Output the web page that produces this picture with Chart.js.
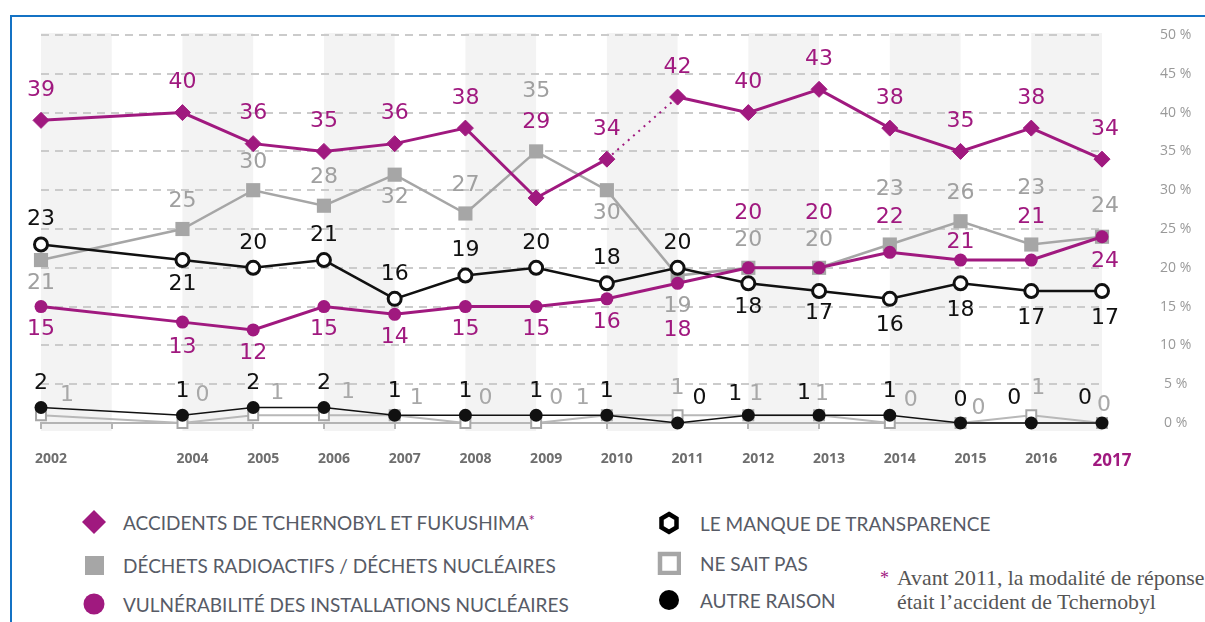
<!DOCTYPE html>
<html lang="fr">
<head>
<meta charset="utf-8">
<title>Raisons d'inquiétude</title>
<script src="https://cdn.jsdelivr.net/npm/chart.js@4.4.0/dist/chart.umd.min.js"></script>
<style>
html,body{margin:0;padding:0;background:#fff;width:1205px;height:622px;overflow:hidden;position:relative;}
#frame{position:absolute;left:10px;top:15px;width:1300px;height:700px;border-left:2px solid #1472c4;border-top:2px solid #1472c4;}
#chart{position:absolute;left:0;top:0;}
.leg{position:absolute;height:24px;display:flex;align-items:center;white-space:nowrap;font:19px Lato,sans-serif;color:#575b66;}
.leg svg{flex:none;}
.leg .star{color:#a0197f;font-size:15px;vertical-align:top;}
#note{position:absolute;left:897px;top:566px;font:21.8px "Liberation Serif",serif;line-height:24px;color:#555;white-space:nowrap;}
#note .star{position:absolute;left:-17px;top:0;color:#a0197f;font-size:18px;}
</style>
</head>
<body>
<div id="frame"></div>
<canvas id="chart" width="1205" height="480"></canvas>
<div id="legend"></div>
<div id="note"><span class="star">*</span>Avant 2011, la modalité de réponse<br>était l’accident de Tchernobyl</div>
<script>
// données (en %)
const years         = [2002, 2004, 2005, 2006, 2007, 2008, 2009, 2010, 2011, 2012, 2013, 2014, 2015, 2016, 2017];
const accidents     = [39, 40, 36, 35, 36, 38, 29, 34, 42, 40, 43, 38, 35, 38, 34];
const dechets       = [21, 25, 30, 28, 32, 27, 35, 30, 19, 20, 20, 23, 26, 23, 24];
const vulnerabilite = [15, 13, 12, 15, 14, 15, 15, 16, 18, 20, 20, 22, 21, 21, 24];
const transparence  = [23, 21, 20, 21, 16, 19, 20, 18, 20, 18, 17, 16, 18, 17, 17];
const neSaitPas     = [1, 0, 1, 1, 1, 0, 0, 1, 1, 1, 1, 0, 0, 1, 0];
const autreRaison   = [2, 1, 2, 2, 1, 1, 1, 1, 0, 1, 1, 1, 0, 0, 0];
const seriesNames = [
  "ACCIDENTS DE TCHERNOBYL ET FUKUSHIMA",
  "DÉCHETS RADIOACTIFS / DÉCHETS NUCLÉAIRES",
  "VULNÉRABILITÉ DES INSTALLATIONS NUCLÉAIRES",
  "LE MANQUE DE TRANSPARENCE",
  "NE SAIT PAS",
  "AUTRE RAISON"
];

const PURPLE = "#a0197f", GREY = "#a6a6a6", BLACK = "#111";

// placement des étiquettes (décalage en px par rapport au point)
const placeAcc   = {def:[0,-30], 2009:[0,-76], 2017:[3,-30]};
const placeDech  = {def:[0,-28], 2002:[0,23], 2007:[0,23], 2009:[0,-60], 2010:[0,23], 2011:[0,31], 2014:[0,-55], 2016:[0,-56], 2017:[3,-30]};
const placeVuln  = {def:[0,23], 2004:[0,25], 2011:[0,47], 2012:[0,-55], 2013:[0,-55], 2014:[0,-35], 2015:[0,-18], 2016:[0,-43], 2017:[3,25]};
const placeTransp= {def:[0,-25], 2004:[0,24], 2012:[0,24], 2013:[0,22], 2014:[0,26], 2015:[0,27], 2016:[0,27], 2017:[3,27]};
const placeAutre = {def:[0,-24], 2011:[22,-25], 2012:[-13,-21], 2013:[-15,-22], 2015:[0,-23], 2016:[-17,-25], 2017:[-17,-25]};
const placeNsp   = {def:[22,-20], 2002:[26,-20], 2004:[20,-28], 2005:[24,-22], 2006:[24,-23], 2007:[22,-17], 2008:[20,-25], 2009:[20,-25],
                    2010:[-24,-17], 2011:[0,-27], 2012:[8,-21], 2013:[3,-21], 2014:[21,-23], 2015:[18,-15], 2016:[7,-27], 2017:[2,-18]};

const pts = arr => arr.map((v,i)=>({x:years[i], y:v}));

// bandes grises verticales
const stripes = {
  id:"stripes",
  beforeDraw(chart){
    const {ctx, chartArea:a, scales:{x}} = chart;
    ctx.save();
    ctx.fillStyle = "#f3f3f3";
    for(let yr = x.min; yr < x.max; yr += 2){
      const l = x.getPixelForValue(yr), r = x.getPixelForValue(yr+1);
      ctx.fillRect(l, a.top-2, r-l, a.bottom-a.top+10);
    }
    ctx.restore();
  }
};

// étiquettes de valeurs
const valueLabels = {
  id:"valueLabels",
  afterDatasetsDraw(chart){
    const ctx = chart.ctx;
    ctx.save();
    ctx.font = '22px "DejaVu Sans"';
    ctx.textAlign = "center";
    ctx.textBaseline = "middle";
    chart.data.datasets.forEach((ds,di)=>{
      const meta = chart.getDatasetMeta(di);
      ctx.fillStyle = ds.labelColor;
      meta.data.forEach((p,i)=>{
        const d = ds.data[i];
        const off = ds.place[d.x] || ds.place.def;
        ctx.fillText(String(d.y), p.x+off[0], p.y+off[1]);
      });
    });
    ctx.restore();
  }
};

const chart = new Chart(document.getElementById("chart"), {
  type:"line",
  data:{
    datasets:[
      {label:seriesNames[0], data:pts(accidents), order:0, borderColor:PURPLE, backgroundColor:PURPLE, borderWidth:3,
       pointStyle:"rectRot", pointRadius:8, pointBorderWidth:1, labelColor:PURPLE, place:placeAcc,
       segment:{borderDash: c => c.p0.parsed.x === 2010 ? [2,5] : undefined,
                borderWidth: c => c.p0.parsed.x === 2010 ? 2 : undefined}},
      {label:seriesNames[1], data:pts(dechets), order:5, borderColor:GREY, backgroundColor:GREY, borderWidth:2.5,
       pointStyle:"rect", pointRadius:10, pointBorderWidth:0, labelColor:"#a0a0a0", place:placeDech},
      {label:seriesNames[2], data:pts(vulnerabilite), order:1, borderColor:PURPLE, backgroundColor:PURPLE, borderWidth:3,
       pointStyle:"circle", pointRadius:6.5, pointBorderWidth:0, labelColor:PURPLE, place:placeVuln},
      {label:seriesNames[3], data:pts(transparence), order:2, borderColor:BLACK, backgroundColor:"#fff", borderWidth:2.5,
       pointStyle:"circle", pointRadius:6.5, pointBorderWidth:3, labelColor:BLACK, place:placeTransp},
      {label:seriesNames[4], data:pts(neSaitPas), order:4, borderColor:"#b8b8b8", backgroundColor:"#fff", borderWidth:2,
       pointStyle:"rect", pointRadius:7, pointBorderWidth:2, pointBorderColor:GREY, labelColor:"#a8a8a8", place:placeNsp},
      {label:seriesNames[5], data:pts(autreRaison), order:3, borderColor:BLACK, backgroundColor:BLACK, borderWidth:1.5,
       pointStyle:"circle", pointRadius:6.5, pointBorderWidth:0, labelColor:BLACK, place:placeAutre}
    ].map(d => Object.assign({tension:0, clip:false, fill:false}, d))
  },
  options:{
    responsive:false,
    devicePixelRatio:1,
    animation:false,
    layout:{padding:{left:41, top:35, right:0, bottom:0}},
    plugins:{legend:{display:false}, tooltip:{enabled:false}},
    scales:{
      x:{
        type:"linear", min:2002, max:2017,
        afterFit: s => { s.height = 57; },
        grid:{drawOnChartArea:false, drawTicks:true, tickLength:6, color:"#b4b4b4", lineWidth:2},
        border:{display:true, color:"#b4b4b4", width:2},
        ticks:{
          stepSize:1, autoSkip:false, maxRotation:0, padding:22, labelOffset:10,
          callback: v => v === 2003 ? "" : String(v),
          color: c => c.tick && c.tick.value === 2017 ? PURPLE : "#6e6e6e",
          font: c => c.tick && c.tick.value === 2017
            ? {family:"Open Sans", size:17, weight:"bold"}
            : {family:"Open Sans", size:14, weight:"bold"}
        }
      },
      y:{
        position:"right", min:0, max:50,
        // largeur fixe, sans marge verticale due au padding des ticks
        afterFit: s => { s.width = 103; s.paddingTop = 0; s.paddingBottom = 0; },
        grid:{color: c => c.tick.value === 0 ? "rgba(0,0,0,0)" : "#cbcbcb", lineWidth:2, drawTicks:false},
        border:{display:false, dash:[8,6]},
        ticks:{stepSize:5, padding:58, crossAlign:"center", color:"#999",
               font:{family:"Open Sans", size:14}, callback: v => v + " %"}
      }
    }
  },
  plugins:[stripes, valueLabels]
});

// légende
const markers = [
  '<svg width="24" height="24"><path d="M12 0L24 12L12 24L0 12Z" fill="'+PURPLE+'"/></svg>',
  '<svg width="24" height="24"><rect x="3" y="3" width="19" height="19" fill="'+GREY+'"/></svg>',
  '<svg width="24" height="24"><circle cx="12" cy="12" r="10.5" fill="'+PURPLE+'"/></svg>',
  '<svg width="24" height="24"><polygon points="12,3 19.5,7.5 19.5,16.5 12,21 4.5,16.5 4.5,7.5" fill="#fff" stroke="#000" stroke-width="4.5"/></svg>',
  '<svg width="24" height="24"><rect x="3" y="3" width="19" height="19" fill="#fff" stroke="'+GREY+'" stroke-width="4.5"/></svg>',
  '<svg width="24" height="24"><circle cx="12" cy="12" r="10" fill="#000"/></svg>'
];
const legPos = [[82,510,17],[82,553,17],[82,592,17],[657,511,19],[657,551,19],[657,588,19]];
document.getElementById("legend").innerHTML = seriesNames.map((n,i)=>
  `<div class="leg" style="left:${legPos[i][0]}px;top:${legPos[i][1]}px">${markers[i]}`+
  `<span style="margin-left:${legPos[i][2]}px">${n}${i===0?'<span class="star">*</span>':''}</span></div>`
).join("");
</script>
</body>
</html>
